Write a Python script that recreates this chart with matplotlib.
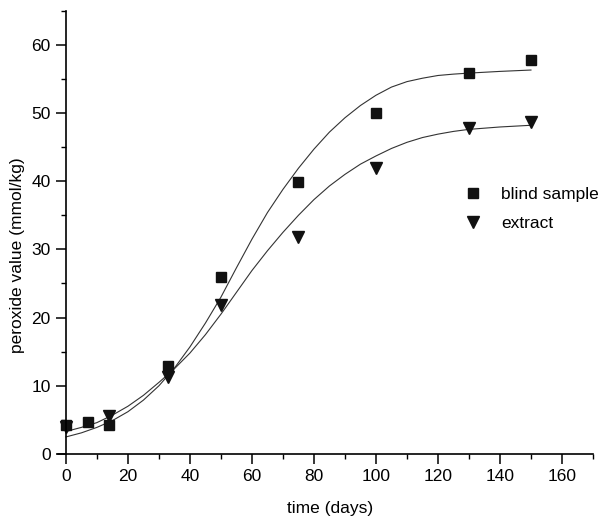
import matplotlib

matplotlib.use("Agg")

import matplotlib.pyplot as plt  # noqa: E402
from matplotlib.ticker import MultipleLocator  # noqa: E402

plt.rcParams["font.family"] = ["Liberation Sans", "DejaVu Sans"]

# measured points
days = [0, 7, 14, 33, 50, 75, 100, 130, 150]
blind = [4.2, 4.7, 4.2, 12.9, 26.0, 39.9, 50.0, 55.9, 57.8]
days_ext = [0, 14, 33, 50, 75, 100, 130, 150]
extract = [3.9, 5.6, 11.3, 21.8, 31.8, 41.9, 47.8, 48.7]

# fitted curves
fit_days = [0, 5, 10, 15, 20, 25, 30, 35, 40, 45, 50, 55, 60, 65, 70, 75,
            80, 85, 90, 95, 100, 105, 110, 115, 120, 125, 130, 140, 150]
blind_fit = [2.5, 3.1, 3.9, 4.9, 6.2, 7.9, 10.0, 12.6, 15.7, 19.2, 23.0,
             27.3, 31.5, 35.4, 38.8, 41.9, 44.7, 47.2, 49.3, 51.1, 52.6,
             53.8, 54.6, 55.1, 55.5, 55.7, 55.85, 56.1, 56.3]
extract_fit = [3.3, 3.9, 4.6, 5.7, 7.0, 8.6, 10.5, 12.5, 14.8, 17.5, 20.5,
               23.7, 26.9, 29.8, 32.5, 35.0, 37.3, 39.3, 41.0, 42.5, 43.7,
               44.8, 45.7, 46.4, 46.9, 47.3, 47.6, 47.95, 48.2]

fig = plt.figure(figsize=(6.06, 5.22), dpi=100)
ax = fig.add_axes([0.096, 0.1303, 0.8825, 0.8492])

ax.plot(fit_days, blind_fit, color="#333333", lw=0.8)
ax.plot(fit_days, extract_fit, color="#333333", lw=0.8)
ax.plot(days, blind, "s", color="#111111", ms=7, label="blind sample",
        clip_on=False)
ax.plot(days_ext, extract, "v", color="#111111", ms=9, label="extract",
        clip_on=False)

ax.set_xlim(-2.5, 170)
ax.set_ylim(0, 65)
ax.spines["left"].set_position(("data", 0))
ax.spines["top"].set_visible(False)
ax.spines["right"].set_visible(False)
for side in ("left", "bottom"):
    ax.spines[side].set_linewidth(1.2)

ax.xaxis.set_major_locator(MultipleLocator(20))
ax.xaxis.set_minor_locator(MultipleLocator(10))
ax.yaxis.set_major_locator(MultipleLocator(10))
ax.yaxis.set_minor_locator(MultipleLocator(5))
ax.set_xticks(list(range(0, 161, 20)))
ax.tick_params(which="major", direction="out", length=7, width=1.1,
               labelsize=12.5, pad=4)
ax.tick_params(which="minor", direction="out", length=3.5, width=1.0)

fig.text(330 / 606, 1 - 508 / 522, "time (days)", ha="center", va="center",
         fontsize=12.5)
fig.text(18 / 606, 1 - 255 / 522, "peroxide value (mmol/kg)", ha="center",
         va="center", rotation=90, fontsize=12.5)

ax.legend(loc="center left", bbox_to_anchor=(0.731, 0.553), frameon=False,
          fontsize=12.5, handletextpad=1.1, labelspacing=0.78,
          handlelength=1.0)

fig.savefig("out.png", dpi=100)
